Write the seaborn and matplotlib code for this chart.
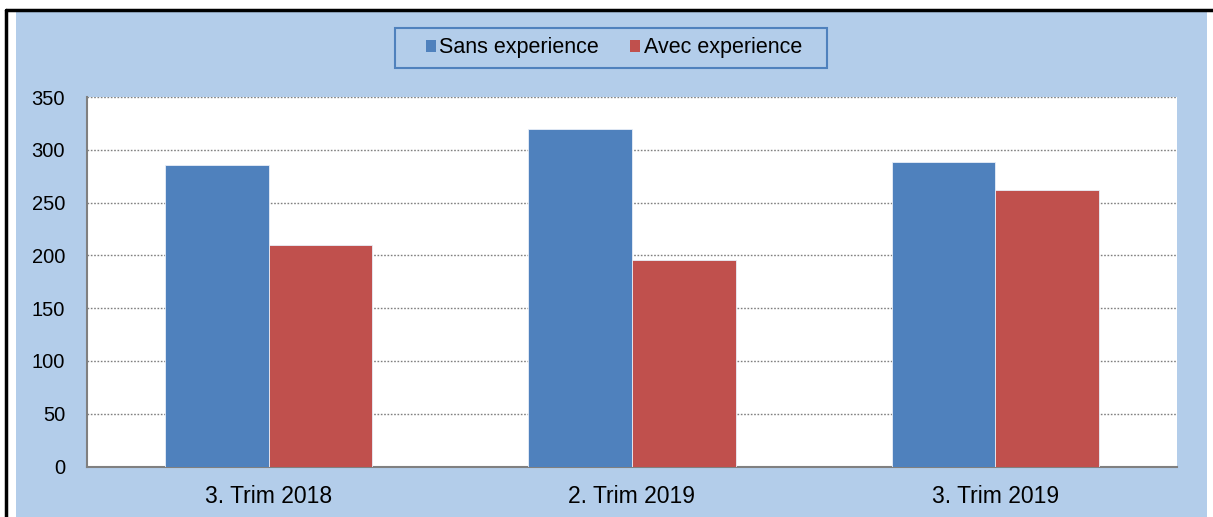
import matplotlib
matplotlib.use("Agg")
import matplotlib.pyplot as plt
from matplotlib.patches import Rectangle
from matplotlib.lines import Line2D
import pandas as pd
import seaborn as sns

periods = ["3. Trim 2018", "2. Trim 2019", "3. Trim 2019"]
sans_exp = [286, 320, 288]
avec_exp = [210, 196, 262]
series = ["Sans experience", "Avec experience"]

df = pd.DataFrame({
    "period": periods * 2,
    "value": sans_exp + avec_exp,
    "group": [series[0]] * 3 + [series[1]] * 3,
})

sns.set_theme(style="white")
plt.rcParams["font.family"] = ["Liberation Sans", "DejaVu Sans"]
plt.rcParams["text.color"] = "black"
plt.rcParams["xtick.color"] = "black"
plt.rcParams["ytick.color"] = "black"

W, H = 1213, 517
fig = plt.figure(figsize=(W / 100, H / 100), dpi=100)
fig.patch.set_facecolor("white")

bg = "#B3CDEA"
fig.patches.append(Rectangle((16 / W, 0), (1207 - 16) / W, 1 - 12 / H,
                             transform=fig.transFigure, facecolor=bg,
                             edgecolor="none", zorder=-5))
fig.lines.append(Line2D([6 / W, 1], [1 - 10 / H, 1 - 10 / H], transform=fig.transFigure,
                        color="black", lw=2.5))
fig.lines.append(Line2D([6 / W, 6 / W], [0, 1 - 10 / H], transform=fig.transFigure,
                        color="black", lw=2.5))
# legend box
fig.patches.append(Rectangle((395 / W, 1 - 68 / H), (827 - 395) / W, 40 / H,
                             transform=fig.transFigure, facecolor=bg,
                             edgecolor="#4F81BD", lw=1.5, zorder=-4))

ax = fig.add_axes([87 / W, (H - 466.5) / H, (1177 - 87) / W, (466.5 - 97) / H])
ax.set_zorder(2)
ax.set_facecolor("white")

pal = {"Sans experience": "#4F81BD", "Avec experience": "#C0504D"}
sns.barplot(data=df, x="period", y="value", hue="group", palette=pal,
            width=0.57, saturation=1, ax=ax, legend=False,
            edgecolor="#E8EEF8", linewidth=0.6, zorder=3)

ax.set_ylim(0, 350)
ax.set_xlim(-0.5, 2.5)
ax.set_yticks(range(0, 351, 50))
ax.yaxis.grid(True, linestyle=(0, (1.2, 1.2)), color="#808080", lw=1.0, zorder=1)
ax.set_axisbelow(True)

ax.set_xticks([0, 1, 2])
ax.set_xticklabels(periods)
ax.set_xticks([-0.5, 0.5, 1.5, 2.5], minor=True)
ax.tick_params(axis="x", which="major", length=0, pad=13, labelsize=16.5)
ax.tick_params(axis="x", which="minor", length=4.3, width=1.5, color="#808080", direction="out")
ax.tick_params(axis="y", length=4.3, width=1.5, color="#808080", direction="out",
               labelsize=14.5, pad=11.5)
ax.set_xlabel("")
ax.set_ylabel("")

for s in ["top", "right"]:
    ax.spines[s].set_visible(False)
for s in ["left", "bottom"]:
    ax.spines[s].set_color("#808080")
    ax.spines[s].set_linewidth(1.5)

handles = [Rectangle((0, 0), 1, 1, facecolor=pal[s], edgecolor="none") for s in series]
leg = fig.legend(handles, series, loc="center", bbox_to_anchor=(614 / W, 1 - 48 / H),
                 ncol=2, fontsize=15.5, frameon=False,
                 handlelength=0.47, handleheight=0.47, handletextpad=0.15,
                 columnspacing=1.45, borderpad=0, borderaxespad=0)

fig.savefig("out.png", dpi=100, facecolor="white")
